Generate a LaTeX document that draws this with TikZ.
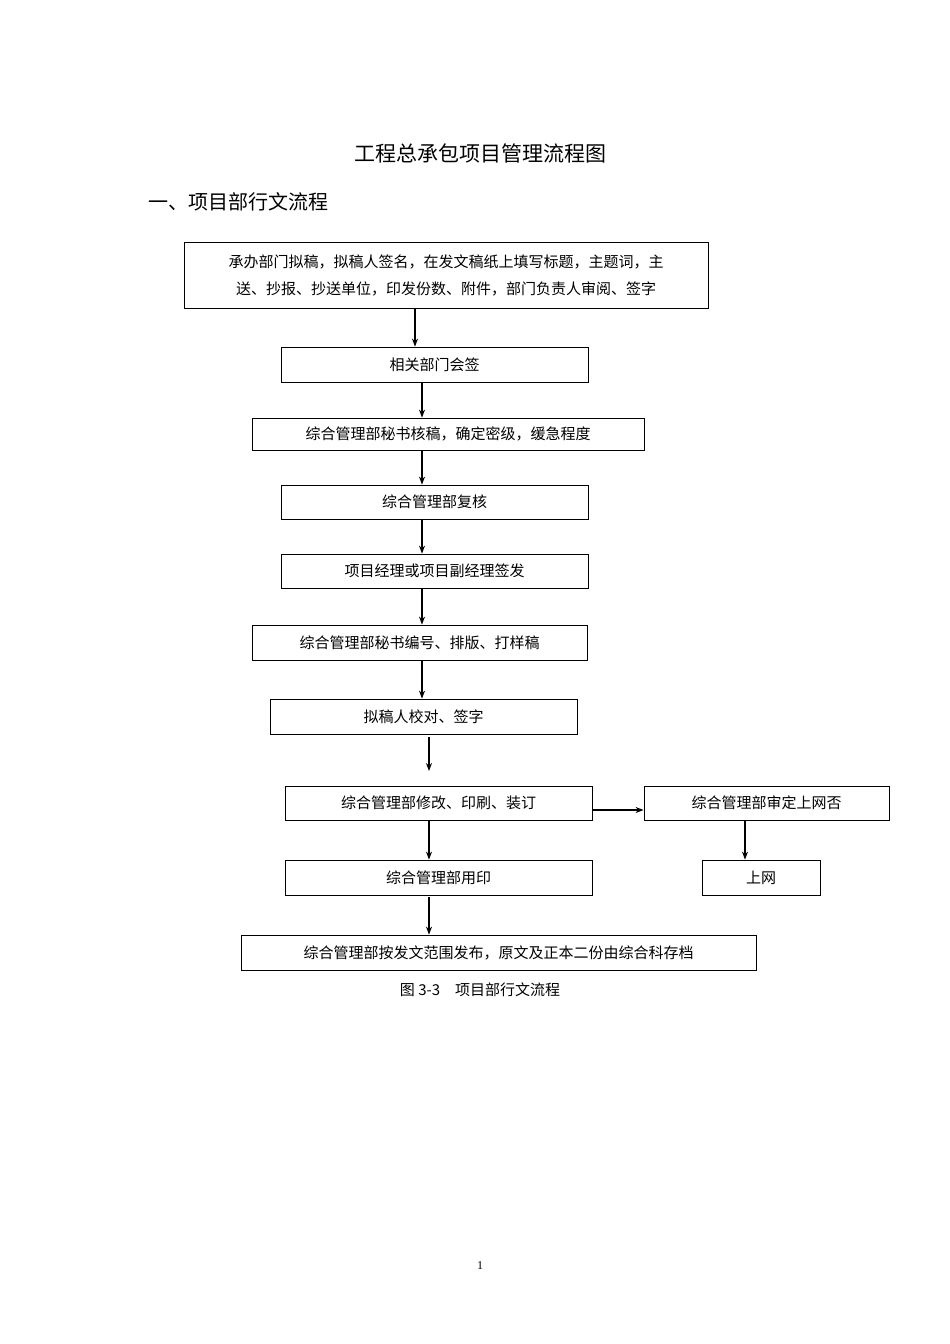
\documentclass[tikz,border=0pt]{standalone}
\usepackage{fontspec}
\setmainfont{Liberation Serif}
\newfontfamily\cjk{Noto Sans CJK SC}
\usetikzlibrary{arrows.meta}
\begin{document}
\begin{tikzpicture}[x=1pt,y=-1pt,
  bx/.style={draw,line width=0.8pt,font=\cjk\fontsize{15}{27}\selectfont},
  arr/.style={-{Stealth[length=8pt,width=6pt]},line width=1.2pt},
  every node/.style={inner sep=0pt}]
\useasboundingbox[fill=white] (0,0) rectangle (950,1344);
\newcommand\bxat[6]{\node[bx,minimum width=#4-#2,minimum height=#5-#3,align=center] (#1) at ({(#2+#4)/2},{(#3+#5)/2}) {#6};}
\node[font=\cjk\fontsize{21}{25}\selectfont] (title) at (480,153) {工程总承包项目管理流程图};
\node[font=\cjk\fontsize{20}{24}\selectfont,anchor=west] (head) at (148,202) {一、项目部行文流程};
\bxat{b1}{184}{242}{708}{308}{承办部门拟稿，拟稿人签名，在发文稿纸上填写标题，主题词，主\\送、抄报、抄送单位，印发份数、附件，部门负责人审阅、签字}
\bxat{b2}{281}{347}{588}{382}{相关部门会签}
\bxat{b3}{252}{418}{644}{450}{综合管理部秘书核稿，确定密级，缓急程度}
\bxat{b4}{281}{485}{588}{519}{综合管理部复核}
\bxat{b5}{281}{554}{588}{588}{项目经理或项目副经理签发}
\bxat{b6}{252}{625}{587}{660}{综合管理部秘书编号、排版、打样稿}
\bxat{b7}{270}{699}{577}{734}{拟稿人校对、签字}
\bxat{b8}{285}{786}{592}{820}{综合管理部修改、印刷、装订}
\bxat{b9}{644}{786}{889}{820}{综合管理部审定上网否}
\bxat{b10}{285}{860}{592}{895}{综合管理部用印}
\bxat{b11}{702}{860}{820}{895}{上网}
\bxat{b12}{241}{935}{756}{970}{综合管理部按发文范围发布，原文及正本二份由综合科存档}
\node[font=\cjk\fontsize{15}{18}\selectfont] (cap) at (480,990) {图 3-3\quad 项目部行文流程};
\node[font=\fontsize{12}{14}\selectfont] (pg) at (480,1266) {1};
\draw[arr] (b1.south -| 415,0) -- (b2.north -| 415,0);
\foreach \a/\b in {b2/b3,b3/b4,b4/b5,b5/b6,b6/b7}
  \draw[arr] (\a.south -| 422,0) -- (\b.north -| 422,0);
\coordinate (e7) at (429,771);
\draw[arr] (b7.south -| 429,0) ++(0,3) -- (e7);
\draw[arr] (b8.south -| 429,0) -- (b10.north -| 429,0);
\draw[arr] (b10.south -| 429,0) ++(0,2) -- (b12.north -| 429,0);
\draw[arr] (b8.east |- 0,810) -- (b9.west |- 0,810);
\draw[arr] (b9.south -| 745,0) -- (b11.north -| 745,0);
\end{tikzpicture}
\end{document}
